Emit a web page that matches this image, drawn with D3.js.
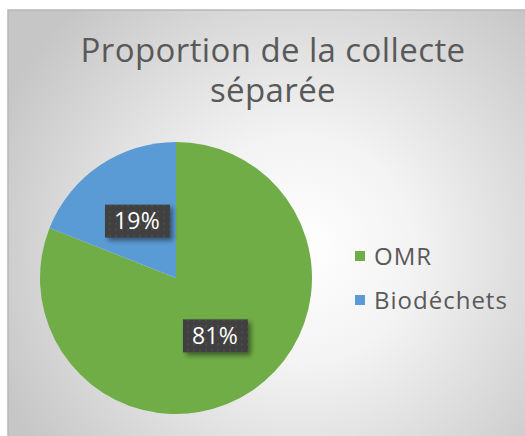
<!DOCTYPE html>
<html>
<head>
<meta charset="utf-8">
<script src="https://cdn.jsdelivr.net/npm/d3@7"></script>
<style>
  body { margin: 0; background: #fff; }
  svg { display: block; font-family: "Open Sans", sans-serif; }
</style>
</head>
<body>
<div id="chart"></div>
<script>
var categories = ["OMR", "Biodéchets"],
  values = [81, 19],
  colors = ["#70ad47", "#5b9bd5"],
  titleLines = ["Proportion de la collecte", "séparée"];

var width = 525, height = 436,
  radius = 136,
  cx = 176, cy = 278;

var svg = d3.select("#chart").append("svg")
  .attr("width", width)
  .attr("height", height);

var defs = svg.append("defs");

var grad = defs.append("radialGradient")
  .attr("id", "bg")
  .attr("gradientUnits", "userSpaceOnUse")
  .attr("cx", 300).attr("cy", 250).attr("r", 330);
grad.append("stop").attr("offset", "0%").attr("stop-color", "#ffffff");
grad.append("stop").attr("offset", "35%").attr("stop-color", "#f3f3f3");
grad.append("stop").attr("offset", "100%").attr("stop-color", "#c6c6c6");

// dotted texture in the label boxes
var pat = defs.append("pattern")
  .attr("id", "dots")
  .attr("patternUnits", "userSpaceOnUse")
  .attr("width", 6).attr("height", 6);
pat.append("rect").attr("width", 6).attr("height", 6).attr("fill", "#404040");
pat.append("rect").attr("x", 2).attr("y", 2).attr("width", 2).attr("height", 2).attr("fill", "#4c4c4c");

var shadow = defs.append("filter").attr("id", "shadow")
  .attr("x", "-20%").attr("y", "-20%").attr("width", "150%").attr("height", "160%");
shadow.append("feDropShadow")
  .attr("dx", 3).attr("dy", 3).attr("stdDeviation", 2.5)
  .attr("flood-color", "#000").attr("flood-opacity", 0.45);

// chart area
svg.append("rect")
  .attr("x", 8).attr("y", 10)
  .attr("width", width).attr("height", height)
  .attr("fill", "url(#bg)")
  .attr("stroke", "#b8b8b8")
  .attr("stroke-width", 1.5);

// title, one text per line
svg.selectAll(".title")
  .data(titleLines)
  .enter().append("text")
  .attr("class", "title")
  .attr("text-anchor", "middle")
  .attr("fill", "#595959")
  .attr("font-size", 33)
  .attr("letter-spacing", 0.4)
  .attr("x", 273)
  .attr("y", (d, i) => 62 + i * 40)
  .text(d => d);

var data = categories.map((c, i) => ({name: c, value: values[i], color: colors[i]}));

var pie = d3.pie().sort(null).value(d => d.value);
var arc = d3.arc().innerRadius(0).outerRadius(radius);
var labelArc = d3.arc().innerRadius(radius * 0.51).outerRadius(radius * 0.51);

var g = svg.append("g").attr("transform", `translate(${cx},${cy})`);

g.selectAll("path")
  .data(pie(data))
  .enter().append("path")
  .attr("d", arc)
  .attr("fill", d => d.data.color);

var total = d3.sum(values);
var labels = g.selectAll(".label")
  .data(pie(data))
  .enter().append("g")
  .attr("class", "label")
  .attr("transform", d => `translate(${labelArc.centroid(d)})`);

labels.append("rect")
  .attr("x", -32).attr("y", -16)
  .attr("width", 65).attr("height", 33)
  .attr("fill", "url(#dots)")
  .attr("filter", "url(#shadow)");

labels.append("text")
  .attr("text-anchor", "middle")
  .attr("dy", "0.36em")
  .attr("fill", "#ffffff")
  .attr("font-size", 23)
  .attr("letter-spacing", 0.3)
  .text(d => Math.round(d.data.value / total * 100) + "%");

// legend
var legend = svg.append("g")
  .attr("transform", "translate(355,0)")
  .selectAll("g")
  .data(data)
  .enter().append("g")
  .attr("transform", (d, i) => `translate(0,${256 + i * 44})`);

legend.append("rect")
  .attr("x", 0).attr("y", -5)
  .attr("width", 10).attr("height", 10)
  .attr("fill", d => d.color);

legend.append("text")
  .attr("x", 19)
  .attr("dy", "0.36em")
  .attr("fill", "#595959")
  .attr("font-size", 24)
  .attr("letter-spacing", 1)
  .text(d => d.name);
</script>
</body>
</html>
